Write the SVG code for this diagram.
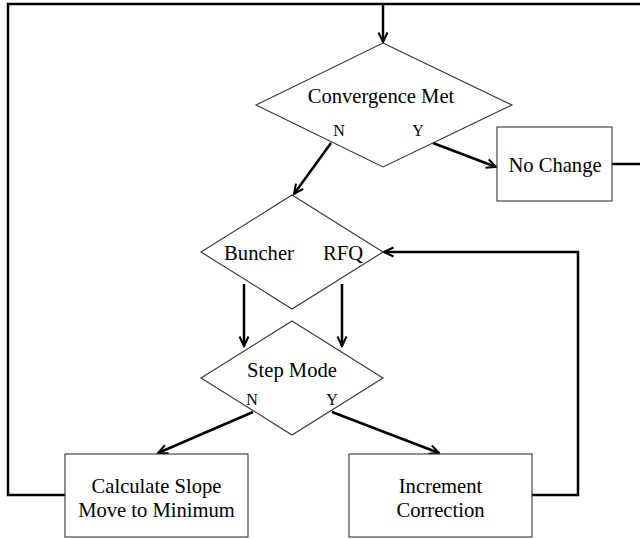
<svg xmlns="http://www.w3.org/2000/svg" width="640" height="539" viewBox="0 0 640 539">
<defs>
<marker id="arr" viewBox="0 0 12 12" refX="10.5" refY="6" markerWidth="12" markerHeight="12" markerUnits="userSpaceOnUse" orient="auto">
<path d="M1,1.5 L10.5,6 L1,10.5" fill="none" stroke="#000" stroke-width="2"/>
</marker>
</defs>
<style>
.shape{fill:#fff;stroke:#333;stroke-width:1.1}
.conn{fill:none;stroke:#000;stroke-width:2.5}
.t{font-family:"Liberation Serif","Times New Roman",serif;font-size:20.6px;fill:#000;text-anchor:middle}
.s{font-family:"Liberation Serif","Times New Roman",serif;font-size:16px;fill:#000;text-anchor:middle}
</style>
<rect width="640" height="539" fill="#fff"/>
<g id="connectors">
<path class="conn" d="M640,4 L8,4 L8,495 L65,495"/>
<path class="conn" d="M383,4 L383,42" marker-end="url(#arr)"/>
<path class="conn" d="M612,164 L640,164"/>
<path class="conn" d="M331,143 L294,194" marker-end="url(#arr)"/>
<path class="conn" d="M433,143 L496,167" marker-end="url(#arr)"/>
<path class="conn" d="M244,284 L244,346" marker-end="url(#arr)"/>
<path class="conn" d="M342,284 L342,346" marker-end="url(#arr)"/>
<path class="conn" d="M253,412 L158,453" marker-end="url(#arr)"/>
<path class="conn" d="M332,412 L439,453" marker-end="url(#arr)"/>
<path class="conn" d="M532,495 L578,495 L578,252 L384,252" marker-end="url(#arr)"/>
</g>
<g id="convergence">
<polygon class="shape" points="383,43 512,105 383,167 256,105"/>
<text class="t" x="381" y="103">Convergence Met</text>
<text class="s" x="339" y="136">N</text>
<text class="s" x="418" y="136">Y</text>
</g>
<g id="nochange">
<rect class="shape" x="497" y="127" width="115" height="74"/>
<text class="t" x="555" y="172">No Change</text>
</g>
<g id="buncher">
<polygon class="shape" points="292,195 383,252 292,309 201,252"/>
<text class="t" x="259" y="260">Buncher</text>
<text class="t" x="343" y="260">RFQ</text>
</g>
<g id="stepmode">
<polygon class="shape" points="292,321 383,378 292,435 201,378"/>
<text class="t" x="292" y="377">Step Mode</text>
<text class="s" x="252" y="405">N</text>
<text class="s" x="332" y="405">Y</text>
</g>
<g id="calculate">
<rect class="shape" x="65" y="454" width="183" height="83"/>
<text class="t" x="156.5" y="493">Calculate Slope</text>
<text class="t" x="156.5" y="517">Move to Minimum</text>
</g>
<g id="increment">
<rect class="shape" x="349" y="454" width="183" height="83"/>
<text class="t" x="440.5" y="493">Increment</text>
<text class="t" x="440.5" y="517">Correction</text>
</g>
</svg>
